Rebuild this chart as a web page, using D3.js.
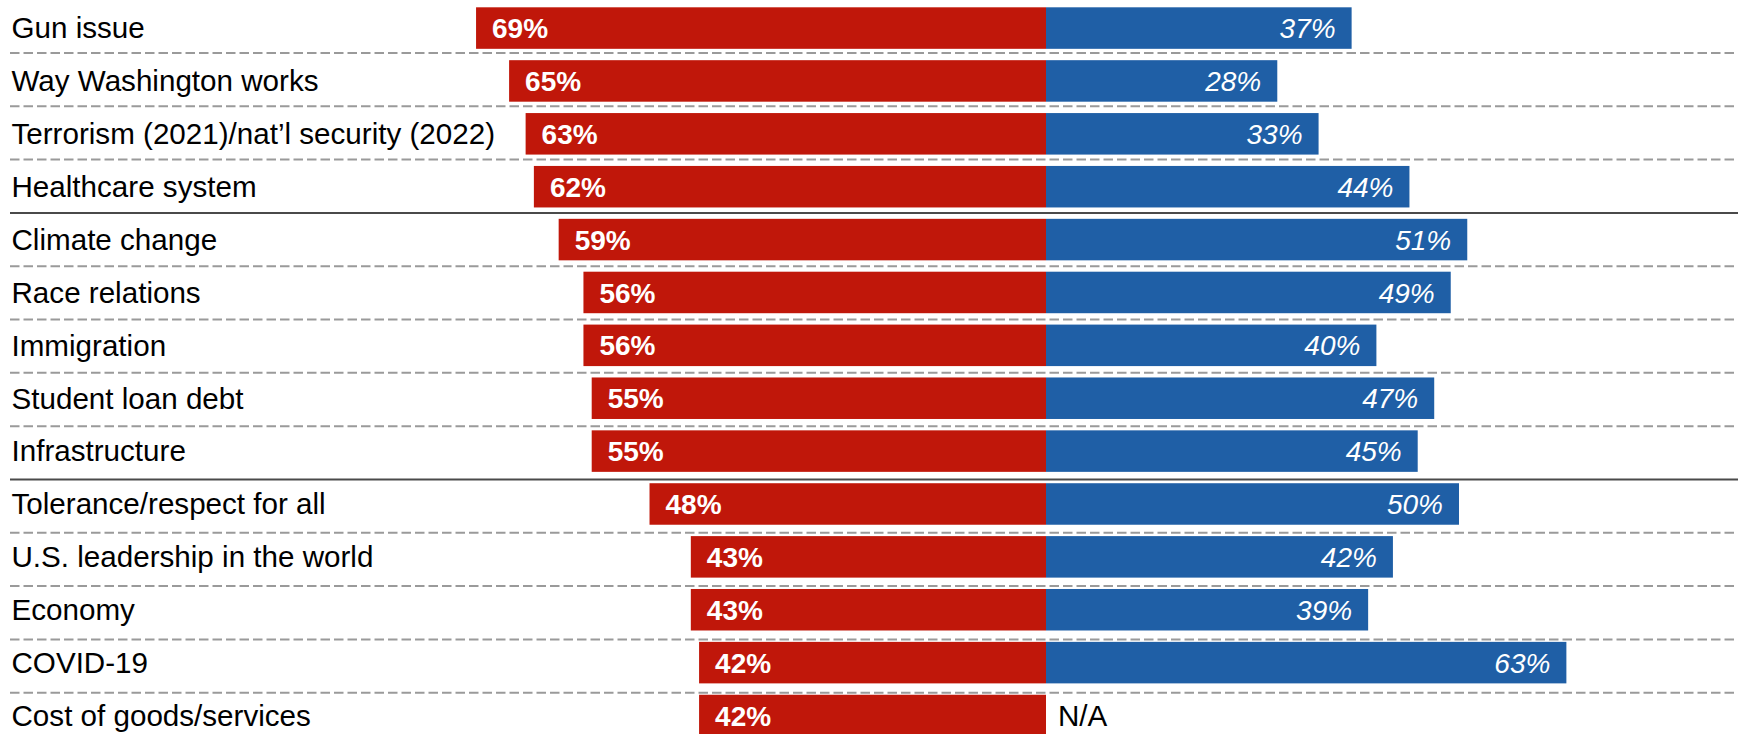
<!DOCTYPE html>
<html>
<head>
<meta charset="utf-8">
<script src="https://cdn.jsdelivr.net/npm/d3@7"></script>
<style>
  html, body { margin: 0; padding: 0; background: #fff; }
  svg { display: block; }
</style>
</head>
<body>
<svg id="chart" width="1738" height="734"></svg>
<script>
// Issue categories, top to bottom
const categories = [
  "Gun issue",
  "Way Washington works",
  "Terrorism (2021)/nat\u2019l security (2022)",
  "Healthcare system",
  "Climate change",
  "Race relations",
  "Immigration",
  "Student loan debt",
  "Infrastructure",
  "Tolerance/respect for all",
  "U.S. leadership in the world",
  "Economy",
  "COVID-19",
  "Cost of goods/services"
];

// Left (red) series, percent
const redValues = [69, 65, 63, 62, 59, 56, 56, 55, 55, 48, 43, 43, 42, 42];

// Right (blue) series, percent; null where not asked
const blueValues = [37, 28, 33, 44, 51, 49, 40, 47, 45, 50, 42, 39, 63, null];

// Rows after which a solid group divider is drawn
const groupBreaks = ["Healthcare system", "Infrastructure"];

const missingLabel = "N/A";

const W = 1738, H = 734;
const centerX = 1046;
const pxPerPct = 8.26;
const rowStep = 52.88;

const svg = d3.select("#chart");
svg.append("rect").attr("width", W).attr("height", H).attr("fill", "#fff");

const rows = categories.map((c, i) => ({ cat: c, red: redValues[i], blue: blueValues[i] }));

// Horizontal scales, diverging from the centre
const xLeft = d3.scaleLinear().domain([0, 100]).range([centerX, centerX - 100 * pxPerPct]);
const xRight = d3.scaleLinear().domain([0, 100]).range([centerX, centerX + 100 * pxPerPct]);

// Vertical band scale for bars
const padIn = 0.215;
const y0 = 1.62;
const y = d3.scaleBand()
  .domain(categories)
  .range([y0, y0 + categories.length * rowStep])
  .paddingInner(padIn)
  .paddingOuter(padIn / 2);

// Row divider positions (boundary k sits between row k-1 and row k)
const divY = d3.scaleLinear().domain([1, 13]).range([53, 692.7]);

const fontFam = "'Liberation Sans', Arial, Helvetica, sans-serif";

// Dividers
const dividers = d3.range(1, categories.length).map(k => ({
  k,
  solid: groupBreaks.includes(categories[k - 1])
}));

svg.append("g").selectAll("line")
  .data(dividers)
  .join("line")
  .attr("x1", 10)
  .attr("x2", W)
  .attr("y1", d => divY(d.k))
  .attr("y2", d => divY(d.k))
  .attr("stroke", d => d.solid ? "#4a4a4a" : "#9a9a9a")
  .attr("stroke-width", 2)
  .attr("stroke-dasharray", d => d.solid ? null : "9.5,4");

// Red bars
svg.append("g").selectAll("rect")
  .data(rows)
  .join("rect")
  .attr("x", d => xLeft(d.red))
  .attr("y", d => y(d.cat))
  .attr("width", d => xLeft(0) - xLeft(d.red))
  .attr("height", y.bandwidth())
  .attr("fill", "#C0170A");

// Blue bars
svg.append("g").selectAll("rect")
  .data(rows.filter(d => d.blue != null))
  .join("rect")
  .attr("x", xRight(0))
  .attr("y", d => y(d.cat))
  .attr("width", d => xRight(d.blue) - xRight(0))
  .attr("height", y.bandwidth())
  .attr("fill", "#1F5FA6");

const mid = d => y(d.cat) + y.bandwidth() / 2;

// Category labels
svg.append("g").selectAll("text")
  .data(rows)
  .join("text")
  .attr("x", 11.5)
  .attr("y", mid)
  .attr("dy", "0.35em")
  .attr("font-family", fontFam)
  .attr("font-size", 29.6)
  .attr("fill", "#000")
  .text(d => d.cat);

// Red value labels
svg.append("g").selectAll("text")
  .data(rows)
  .join("text")
  .attr("x", d => xLeft(d.red) + 16)
  .attr("y", mid)
  .attr("dy", "0.36em")
  .attr("font-family", fontFam)
  .attr("font-size", 28)
  .attr("font-weight", "bold")
  .attr("fill", "#fff")
  .text(d => d.red + "%");

// Blue value labels (or N/A)
svg.append("g").selectAll("text")
  .data(rows)
  .join("text")
  .attr("x", d => d.blue != null ? xRight(d.blue) - 16 : xRight(0) + 12)
  .attr("y", mid)
  .attr("dy", "0.36em")
  .attr("text-anchor", d => d.blue != null ? "end" : "start")
  .attr("font-family", fontFam)
  .attr("font-size", d => d.blue != null ? 28 : 29.6)
  .attr("font-style", d => d.blue != null ? "italic" : "normal")
  .attr("fill", d => d.blue != null ? "#fff" : "#000")
  .text(d => d.blue != null ? d.blue + "%" : missingLabel);
</script>
</body>
</html>
